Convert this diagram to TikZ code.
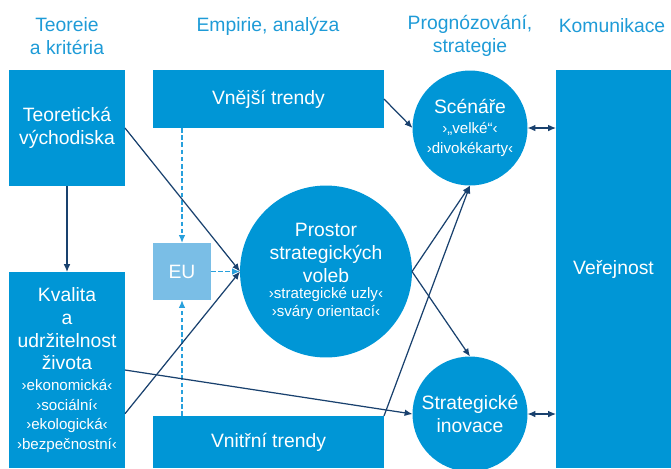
\documentclass[tikz,border=0pt]{standalone}
\usepackage{fontspec}
\setmainfont{Liberation Sans}
\usetikzlibrary{arrows.meta,calc}

\definecolor{boxblue}{RGB}{0,150,214}
\definecolor{eublue}{RGB}{122,190,230}
\definecolor{dashblue}{RGB}{40,160,220}
\definecolor{arrowdark}{RGB}{25,65,110}
\definecolor{headblue}{RGB}{30,155,215}

\newcommand{\bigtxt}{\fontsize{11}{12.9}\selectfont}
\newcommand{\m}[1]{{\fontsize{8.6}{11}\selectfont #1}}

\tikzset{
  blok/.style={fill=boxblue, text=white, inner sep=0pt, outer sep=0pt, align=center, font=\bigtxt},
  kruh/.style={blok, circle},
  hlavicka/.style={text=headblue, align=center, font=\bigtxt},
  sipka/.style={draw=arrowdark, line width=0.7pt, -{Latex[length=4.5pt,width=3.8pt]}},
  obousipka/.style={sipka, {Latex[length=4.5pt,width=3.8pt]}-{Latex[length=4.5pt,width=3.8pt]}},
  carkovana/.style={draw=dashblue, line width=0.85pt, dash pattern=on 2.6pt off 1.5pt, -{Latex[length=4.5pt,width=3.8pt]}}
}

\begin{document}
\begin{tikzpicture}[x=0.02cm, y=-0.02cm]
\useasboundingbox (0,0) rectangle (671,468);
\node[hlavicka] (hteo) at (67,36) {Teoreie\\a kritéria};
\node[hlavicka] (hemp) at (268,26) {Empirie, analýza};
\node[hlavicka] (hpro) at (470,36) {Prognózování,\\strategie};
\node[hlavicka] (hkom) at (612,26) {Komunikace};

\node[blok, minimum width=2.32cm, minimum height=2.32cm] (teo) at (67,128) {Teoretická\\východiska};
\node[blok, minimum width=2.32cm, minimum height=3.92cm] (kval) at (67,370) {Kvalita\\a\\udržitelnost\\života\\[-1pt]\m{›ekonomická‹}\\[-1.8pt]\m{›sociální‹}\\[-1.8pt]\m{›ekologická‹}\\[-1.8pt]\m{›bezpečnostní‹}};
\node[blok, minimum width=4.62cm, minimum height=1.16cm] (vnej) at (268.5,99) {Vnější trendy};
\node[blok, minimum width=4.62cm, minimum height=1.04cm] (vnit) at (268.5,442) {Vnitřní trendy};
\node[blok, fill=eublue, minimum width=1.16cm, minimum height=1.14cm] (eu) at (182,271.5) {EU};
\node[kruh, minimum size=3.44cm] (prost) at (326,271.5) {Prostor\\strategických\\voleb\\[-3.5pt]\m{›strategické uzly‹}\\[-3pt]\m{›sváry orientací‹}};
\node[kruh, minimum size=2.3cm] (scen) at (470,128) {Scénáře\\[-1.5pt]\m{›„velké“‹}\\[-2pt]\m{›divokékarty‹}};
\node[kruh, minimum size=2.3cm] (inov) at (470,414) {Strategické\\inovace};
\node[blok, minimum width=2.3cm, minimum height=7.96cm] (ver) at (613.5,269) {Veřejnost};

\draw[carkovana] (vnej.south -| eu) -- (eu.north);
\draw[carkovana] (vnit.north -| eu) -- (eu.south);
\draw[carkovana] (eu.east) -- (prost.west);
\draw[sipka] (teo) -- (kval);
\draw[sipka] (teo.east) -- (prost.west);
\draw[sipka] (kval.-37) -- (prost.west);
\draw[sipka] (kval.east) -- (inov.west);
\draw[sipka] (vnej.east) -- (scen.west);
\draw[sipka] (prost.east) -- (scen.south);
\draw[sipka] (prost.east) -- (inov.north);
\draw[sipka] (vnit.north east) -- (scen.south);
\draw[obousipka] (scen.east) -- (scen.east -| ver.west);
\draw[obousipka] (inov.east) -- (inov.east -| ver.west);
\end{tikzpicture}
\end{document}
